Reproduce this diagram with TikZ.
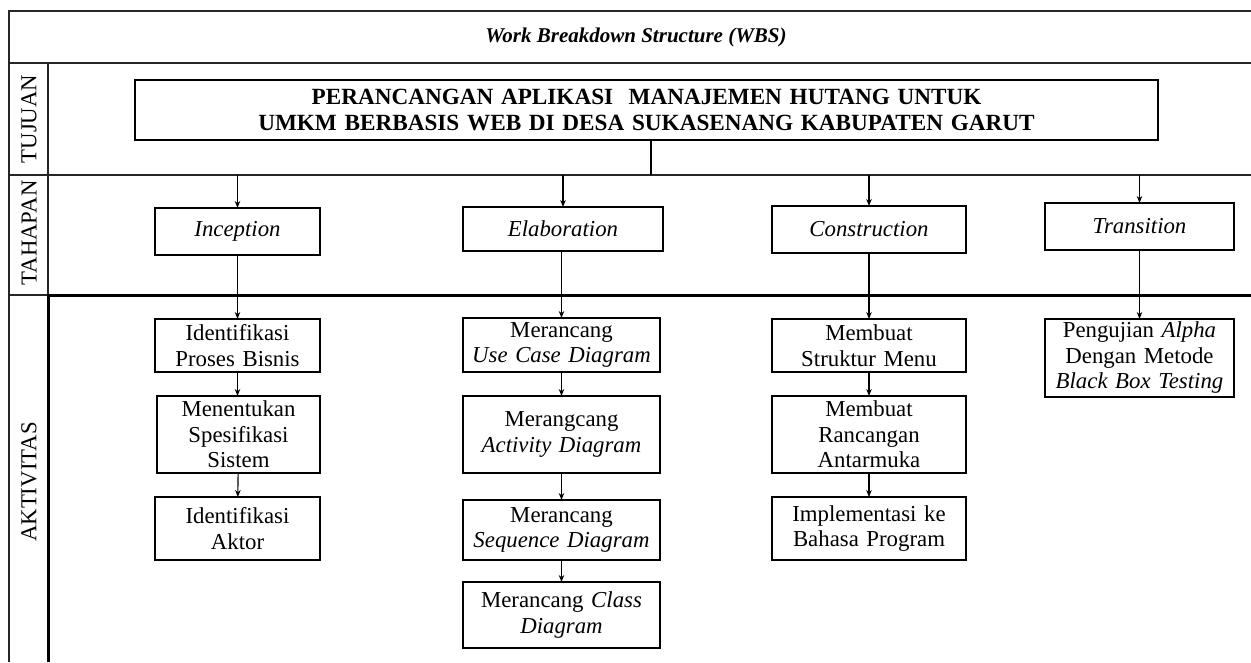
\documentclass[tikz,border=0pt]{standalone}
\usepackage{fontspec}
\setmainfont{Liberation Serif}
\usepackage{tikz}
\usetikzlibrary{arrows.meta}
\newcommand{\wbsfont}{\fontsize{22.8}{25.5}\selectfont}
\newcommand{\headfont}{\fontsize{21}{24}\selectfont}
\newcommand{\goalfont}{\fontsize{23.2}{25.5}\selectfont}
\tikzstyle{grid}=[line width=1.3pt, draw=black!85]
\tikzstyle{thickgrid}=[line width=3pt, draw=black]
\tikzstyle{wbsbox}=[draw, line width=1.3pt, inner sep=0, outer sep=0, align=center, font=\wbsfont]
\tikzstyle{phase}=[wbsbox, font=\wbsfont\itshape]
\tikzstyle{activity}=[wbsbox]
\tikzstyle{link}=[line width=1.1pt, -{Stealth[length=7pt, width=5.5pt]}]
\tikzstyle{rowlabel}=[rotate=90, font=\wbsfont, inner sep=0]

\begin{document}
\begin{tikzpicture}[x=1pt, y=-1pt]
    \useasboundingbox (0,0) rectangle (1251,662);
    % table frame
    \draw[grid] (9,662) -- (9,11) -- (1251,11);
    \draw[grid] (9,63) -- (1251,63);
    \draw[grid] (9,175) -- (1251,175);
    \draw[grid] (48,63) -- (48,295);
    \draw[grid] (9,295) -- (48,295);
    \draw[thickgrid] (48,662) -- (48,295) -- (1251,295);
    \node[font=\headfont\bfseries\itshape] (title) at (636, 37) {Work Breakdown Structure (WBS)};
    \node[rowlabel] (tujuan) at (29, 119) {TUJUAN};
    \node[rowlabel] (tahapan) at (29, 233) {TAHAPAN};
    \node[rowlabel] (aktivitas) at (29, 482) {AKTIVITAS};
    % goal
    \node[wbsbox, font=\goalfont\bfseries, text width=1023pt, minimum height=60pt] (goal) at (646.5, 110)
        {PERANCANGAN APLIKASI\ \ MANAJEMEN HUTANG UNTUK\\UMKM BERBASIS WEB DI DESA SUKASENANG KABUPATEN GARUT};
    \coordinate (bus) at (651, 175);
    \draw[line width=1.1pt] (goal.south -| bus) -- (bus);
    % phases
    \node[phase, text width=165pt, minimum height=47pt] (inception) at (237.5, 231.5) {Inception};
    \node[phase, text width=200pt, minimum height=44pt] (elaboration) at (563, 229) {Elaboration};
    \node[phase, text width=194pt, minimum height=47pt] (construction) at (869, 229.5) {Construction};
    \node[phase, text width=189pt, minimum height=47pt] (transition) at (1139.5, 226.5) {Transition};
    \coordinate (tInception) at (237.5, 175);
    \coordinate (tElaboration) at (563, 175);
    \coordinate (tConstruction) at (869, 175);
    \coordinate (tTransition) at (1139.5, 175);
    \draw[link] (tInception) -- (inception);
    \draw[link] (tElaboration) -- (elaboration);
    \draw[link] (tConstruction) -- (construction);
    \draw[link] (tTransition) -- (transition);
    % activities
    \node[activity, text width=165pt, minimum height=53pt] (bisnis) at (237.5, 345.5) {Identifikasi\\Proses Bisnis};
    \node[activity, text width=163pt, minimum height=77pt] (spesifikasi) at (238.5, 434.5) {Menentukan\\Spesifikasi\\Sistem};
    \node[activity, text width=165pt, minimum height=63pt] (aktor) at (237.5, 528.5) {Identifikasi\\Aktor};
    \node[activity, text width=197pt, minimum height=54pt] (usecase) at (561.5, 345) {Merancang\\\textit{Use Case Diagram}};
    \node[activity, text width=197pt, minimum height=77pt] (activity) at (561.5, 434.5) {Merangcang\\\textit{Activity Diagram}};
    \node[activity, text width=197pt, minimum height=60pt] (sequence) at (561.5, 530) {Merancang\\\textit{Sequence Diagram}};
    \node[activity, text width=197pt, minimum height=66pt] (class) at (561.5, 615) {Merancang \textit{Class}\\\textit{Diagram}};
    \node[activity, text width=194pt, minimum height=53pt] (menu) at (869, 345.5) {Membuat\\Struktur Menu};
    \node[activity, text width=194pt, minimum height=77pt] (antarmuka) at (869, 434.5) {Membuat\\Rancangan\\Antarmuka};
    \node[activity, text width=194pt, minimum height=63pt] (program) at (869, 528.5) {Implementasi ke\\Bahasa Program};
    \node[activity, text width=189pt, minimum height=78pt] (testing) at (1139.5, 358) {Pengujian \textit{Alpha}\\Dengan Metode\\\textit{Black Box Testing}};
    \draw[link] (inception) -- (bisnis);
    \draw[link] (bisnis) -- (bisnis |- spesifikasi.north);
    \draw[link] (spesifikasi) -- (aktor);
    \draw[link] (elaboration.south -| usecase) -- (usecase);
    \draw[link] (usecase) -- (activity);
    \draw[link] (activity) -- (sequence);
    \draw[link] (sequence) -- (class);
    \draw[link] (construction) -- (menu);
    \draw[link] (menu) -- (antarmuka);
    \draw[link] (antarmuka) -- (program);
    \draw[link] (transition) -- (testing);
\end{tikzpicture}
\end{document}
